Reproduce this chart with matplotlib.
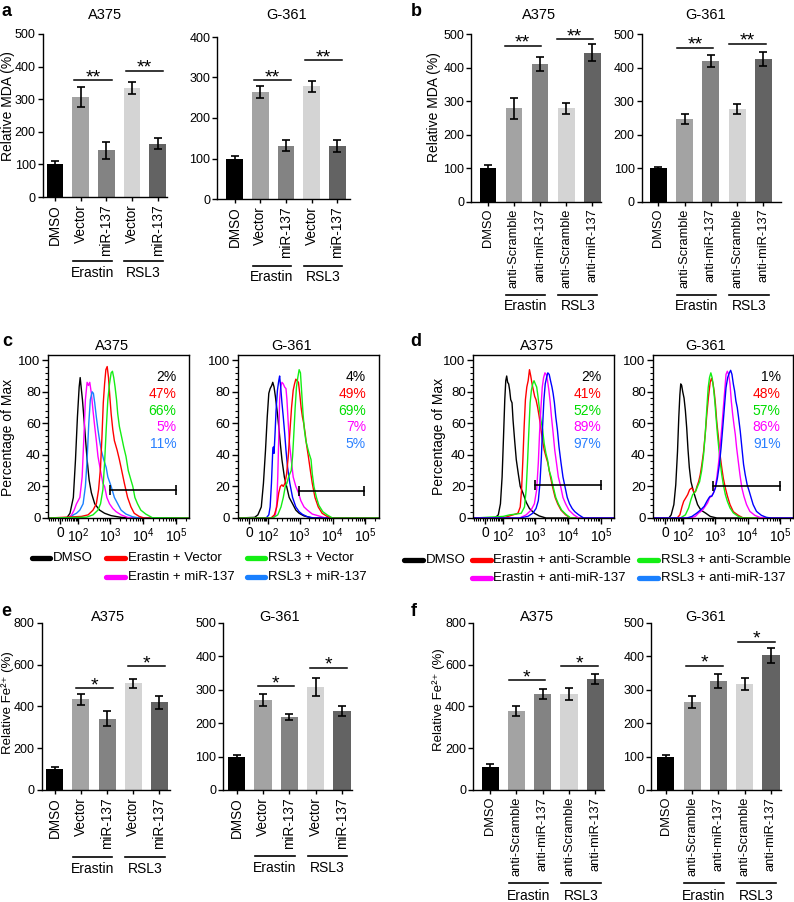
import numpy as np
import matplotlib
matplotlib.use("Agg")
import matplotlib.pyplot as plt
from matplotlib.transforms import blended_transform_factory
from matplotlib.lines import Line2D
from matplotlib.ticker import FixedLocator, MultipleLocator

plt.rcParams["font.family"] = ["Liberation Sans", "DejaVu Sans"]
plt.rcParams["mathtext.fontset"] = "custom"
plt.rcParams["mathtext.rm"] = "Liberation Sans"
plt.rcParams["mathtext.it"] = "Liberation Sans:italic"
plt.rcParams["mathtext.bf"] = "Liberation Sans:bold"
plt.rcParams["axes.linewidth"] = 1.0

# ---------------- bar chart data ----------------
VEC_LABELS = ["DMSO", "Vector", "miR-137", "Vector", "miR-137"]
ANTI_LABELS = ["DMSO", "anti-Scramble", "anti-miR-137", "anti-Scramble", "anti-miR-137"]
GROUPS = ["Erastin", "RSL3"]
BAR_COLORS = ["#000000", "#a3a3a3", "#838383", "#d4d4d4", "#636363"]

a_a375_mean = [100, 306, 143, 334, 164]
a_a375_err = [10, 31, 27, 19, 17]
a_g361_mean = [100, 264, 132, 278, 131]
a_g361_err = [6, 15, 13, 14, 15]
b_a375_mean = [100, 279, 411, 279, 445]
b_a375_err = [11, 31, 20, 16, 26]
b_g361_mean = [100, 247, 419, 277, 426]
b_g361_err = [5, 15, 18, 16, 22]
e_a375_mean = [100, 433, 341, 510, 419]
e_a375_err = [11, 28, 37, 23, 31]
e_g361_mean = [100, 268, 219, 309, 236]
e_g361_err = [6, 18, 9, 27, 14]
f_a375_mean = [110, 378, 459, 457, 531]
f_a375_err = [12, 26, 25, 29, 25]
f_g361_mean = [100, 262, 325, 317, 402]
f_g361_err = [6, 18, 21, 17, 23]

# heights of the significance lines (Erastin pair, RSL3 pair)
a_a375_sig = [359, 387]
a_g361_sig = [293, 342]
b_a375_sig = [466, 485]
b_g361_sig = [460, 472]
e_a375_sig = [486, 591]
e_g361_sig = [311, 365]
f_a375_sig = [526, 591]
f_g361_sig = [371, 443]

# ---------------- flow cytometry data (intensity, % of max) ----------------
c1_dmso_x = [29, 45, 64, 78, 92, 106, 115, 127, 137, 155, 171, 194, 225, 264, 335, 473, 672, 1064, 2130, 4250]
c1_dmso_y = [0, 3, 13, 37, 64, 83, 89, 81, 75, 62, 51, 37, 24, 16, 9, 5, 3, 1.5, 0.4, 0]
c1_red_x = [127, 209, 297, 376, 441, 505, 557, 613, 672, 735, 806, 883, 970, 1064, 1194, 1335, 1615, 1892,
            2230, 2680, 3360, 4250, 5330, 7530, 10640]
c1_red_y = [1, 2, 5, 9, 18, 32, 51, 73, 85, 94, 96, 89, 77, 66, 56, 49, 43, 37, 30, 22, 13, 7, 3, 1, 0]
c1_green_x = [184, 297, 422, 505, 597, 672, 752, 844, 948, 1064, 1165, 1275, 1400, 1550, 1686, 1892, 2230,
              2560, 3000, 3520, 4250, 4840, 5590, 6720, 8450, 11930, 18910]
c1_green_y = [0.5, 2, 5, 9, 18, 35, 56, 75, 85, 92, 93, 89, 83, 75, 66, 58, 51, 45, 39, 30, 24, 20, 13, 9, 5,
              2.5, 0.2]
c1_mag_x = [36, 54, 69, 85, 112, 134, 155, 171, 194, 214, 235, 264, 297, 335, 376, 422, 505, 597, 672, 788,
            948, 1194, 1503, 2130, 3360, 5330]
c1_mag_y = [0, 2, 5, 9, 13, 26, 54, 75, 86, 84, 86, 79, 68, 58, 49, 39, 30, 22, 20, 13, 9, 6, 4, 2, 0.4, 0]
c1_blue_x = [45, 64, 85, 112, 144, 171, 194, 219, 245, 279, 305, 335, 376, 422, 473, 533, 630, 752, 844, 1064,
             1335, 1686, 2130, 3000, 4750, 7530]
c1_blue_y = [0, 2, 3, 5, 9, 20, 37, 60, 75, 80, 79, 73, 64, 56, 49, 43, 37, 32, 26, 20, 13, 9, 5, 2.5, 0.8, 0]

c2_dmso_x = [22.6, 38, 56, 69, 83, 96, 109, 121, 137, 148, 163, 180, 204, 230, 258, 289, 343, 403, 483, 613,
             770, 970, 1365, 2430]
c2_dmso_y = [0.4, 2, 7, 22, 43, 64, 79, 82, 84, 86, 83, 77, 68, 58, 47, 37, 26, 20, 13, 9, 5, 3, 1.3, 0]
c2_red_x = [130, 167, 199, 230, 258, 289, 318, 358, 403, 452, 505, 570, 640, 703, 770, 844, 925, 1010, 1115,
            1222, 1335, 1470, 1615, 1850, 2130, 2430, 2940, 3690, 4840, 6860, 9960]
c2_red_y = [0, 2, 7, 16, 20, 21, 20, 22, 28, 39, 54, 70, 81, 85, 88, 87, 86, 79, 70, 64, 60, 54, 47, 39, 30,
            22, 13, 7, 3, 1, 0]
c2_green_x = [148, 214, 270, 318, 367, 412, 462, 505, 557, 613, 672, 735, 806, 883, 970, 1064, 1165, 1275,
              1400, 1550, 1730, 1940, 2230, 2430, 2730, 3250, 3860, 5080, 6860, 9960]
c2_green_y = [0, 2, 7, 13, 20, 22, 26, 28, 30, 39, 54, 70, 83, 89, 94, 92, 79, 66, 56, 49, 45, 41, 37, 28, 20,
              13, 8, 4, 2, 0]
c2_mag_x = [148, 180, 199, 214, 230, 245, 264, 289, 318, 350, 385, 412, 452, 494, 557, 640, 770, 925, 1090,
            1365, 1730, 2430, 3860, 6120]
c2_mag_y = [0, 2, 9, 26, 51, 75, 83, 86, 85, 83, 82, 75, 60, 47, 37, 26, 20, 16, 11, 7, 5, 2.5, 1.3, 0]
c2_blue_x = [88, 109, 121, 134, 148, 155, 163, 176, 189, 209, 230, 245, 264, 289, 318, 350, 385, 432, 505,
             613, 770, 970, 1222, 1730, 2730]
c2_blue_y = [0, 2, 7, 22, 43, 45, 41, 54, 68, 81, 87, 90, 83, 73, 64, 54, 43, 32, 22, 13, 7, 4, 2.3, 0.8, 0]

d1_dmso_x = [45, 64, 78, 90, 101, 112, 121, 130, 140, 151, 163, 176, 194, 209, 235, 264, 305, 350, 422, 533,
             672, 948, 1335, 2130]
d1_dmso_y = [0, 2, 9, 26, 51, 75, 87, 90, 86, 85, 81, 75, 73, 62, 49, 37, 28, 20, 16, 10, 6, 3, 1.3, 0]
d1_red_x = [98, 144, 209, 297, 350, 385, 422, 462, 505, 557, 613, 672, 735, 806, 883, 970, 1064, 1194, 1335,
            1503, 1686, 1892, 2130, 2430, 2800, 3360, 4060, 4840, 6120, 8450, 11930]
d1_red_y = [0, 1, 2, 3, 7, 18, 37, 58, 75, 83, 87, 94, 90, 85, 81, 77, 75, 70, 64, 56, 49, 43, 39, 35, 28, 20,
            13, 9, 5, 2, 0]
d1_green_x = [98, 163, 264, 376, 473, 533, 585, 640, 703, 770, 844, 925, 1010, 1115, 1222, 1335, 1503, 1686,
              1892, 2130, 2383, 2680, 3070, 3520, 4250, 5080, 6400, 8450, 11930]
d1_green_y = [1, 2, 2.5, 3, 7, 18, 35, 54, 73, 81, 85, 87, 85, 83, 77, 70, 62, 56, 47, 41, 37, 30, 26, 20, 13,
              9, 5, 2.5, 0]
d1_mag_x = [335, 533, 752, 948, 1115, 1250, 1365, 1503, 1650, 1810, 1985, 2180, 2383, 2620, 2880, 3140, 3520,
            3950, 4450, 5080, 5980, 7020, 8450, 10640, 15020, 21200]
d1_mag_y = [0, 2, 5, 9, 18, 35, 54, 70, 83, 89, 92, 91, 87, 81, 73, 64, 54, 43, 35, 26, 20, 13, 9, 5, 2, 0]
d1_blue_x = [335, 597, 844, 1064, 1250, 1400, 1550, 1686, 1850, 2030, 2230, 2430, 2680, 2940, 3250, 3520,
             3860, 4250, 4750, 5330, 6120, 7020, 8060, 9480, 11130, 13390, 16100, 21200, 29960]
d1_blue_y = [0, 1, 3, 6, 11, 22, 39, 58, 75, 85, 89, 92, 91, 87, 83, 79, 73, 64, 56, 45, 35, 26, 20, 13, 9, 6,
             4, 2, 0]

d2_dmso_x = [16.5, 27, 40, 50, 60, 68, 75, 81, 88, 96, 107, 119, 132, 145, 161, 182, 211, 250, 294, 374, 530,
             725, 1150]
d2_dmso_y = [0, 2, 8.5, 21, 42, 64, 78, 85, 84, 80, 76, 68, 57, 44, 32, 23, 18, 13, 8.5, 5, 3, 1, 0]
d2_red_x = [58, 75, 91, 104, 122, 142, 165, 191, 211, 232, 256, 281, 317, 356, 400, 451, 507, 570, 640, 720,
            790, 866, 952, 1045, 1146, 1288, 1446, 1626, 1824, 2100, 2418, 2910, 3675, 5205, 7380]
d2_red_y = [0, 2, 7.4, 10.6, 12.7, 14.8, 18, 19, 18, 16, 17, 20, 23, 27.5, 34, 42, 53, 66, 77, 86, 88.5, 86,
            80.5, 72, 61, 51, 40, 32, 25, 19, 14, 8.5, 4, 1.7, 0]
d2_green_x = [79, 119, 153, 182, 206, 232, 262, 294, 340, 392, 451, 507, 570, 626, 687, 755, 828, 909, 998,
              1094, 1202, 1320, 1446, 1626, 1824, 2100, 2418, 2910, 3675, 5205, 7380]
d2_green_y = [0, 2, 6.4, 11.7, 14.8, 15.9, 17.4, 20, 23, 29.7, 40, 53, 70, 82.6, 89, 92, 89, 82.6, 74, 63.6,
              53, 44.5, 36, 27.5, 21, 14.8, 10.6, 6.4, 3.2, 1, 0]
d2_mag_x = [173, 250, 317, 374, 430, 507, 597, 687, 790, 909, 1020, 1146, 1288, 1446, 1626, 1824, 2004, 2198,
            2418, 2650, 2910, 3190, 3510, 3850, 4220, 4635, 5205, 5850, 6720, 7740, 9320, 11760, 16650, 23600,
            37600]
d2_mag_y = [0, 1, 3.2, 4.2, 5.3, 7.4, 9.5, 12.7, 13.8, 15.9, 19, 25.4, 34, 44.5, 57, 70, 80.5, 91, 93, 91, 85,
            74, 65.7, 59, 53, 44.5, 36, 27.5, 19, 13.8, 8.5, 4.2, 1.7, 0.4, 0]
d2_blue_x = [135, 196, 281, 374, 472, 570, 656, 720, 808, 909, 1045, 1202, 1380, 1553, 1743, 1958, 2198,
             2470, 2773, 3046, 3340, 3675, 4028, 4418, 4850, 5325, 5985, 6720, 7550, 8480, 9755, 11230, 12900,
             14830, 18730, 26500, 37600, 53200]
d2_blue_y = [0, 1, 3.2, 5.3, 7.4, 10.6, 12.7, 13.8, 13.8, 15.9, 19, 25.4, 34, 44.5, 57, 70, 82.6, 89, 92, 93.6,
             91, 85, 80.5, 74, 70, 63.6, 55, 44.5, 34, 27.5, 21, 17, 12.7, 8.5, 4.2, 1.7, 0.4, 0]

c1_pct = ["2%", "47%", "66%", "5%", "11%"]
c2_pct = ["4%", "49%", "69%", "7%", "5%"]
d1_pct = ["2%", "41%", "52%", "89%", "97%"]
d2_pct = ["1%", "48%", "57%", "86%", "91%"]

# gate: start, end, height
c1_gate = [1000, 100000, 18]
c2_gate = [930, 93000, 17]
d1_gate = [1010, 100000, 21]
d2_gate = [909, 95300, 20]

LEG_C = ["DMSO", "Erastin + Vector", "RSL3 + Vector", "Erastin + miR-137", "RSL3 + miR-137"]
LEG_D = ["DMSO", "Erastin + anti-Scramble", "RSL3 + anti-Scramble", "Erastin + anti-miR-137",
         "RSL3 + anti-miR-137"]

RED = "#ff0000"
GREEN = "#14ee14"
MAG = "#ff00ff"
LBLUE = "#1a80ff"
DBLUE = "#0000ff"
TXT_COLORS = ["#000000", RED, "#00dd00", MAG, "#2a80ff"]
LEG_COLORS = ["#000000", RED, GREEN, MAG, LBLUE]

W, H = 794, 902
fig = plt.figure(figsize=(W / 100, H / 100), dpi=100)


def box(left, top, right, bottom):
    return fig.add_axes([left / W, 1 - bottom / H, (right - left) / W, (bottom - top) / H])


def fy(y):
    return 1 - y / H


def ftext(x, y, s, **kw):
    fig.text(x / W, fy(y), s, **kw)


def bar_panel(pos, means, errs, labels, ymax, ystep, xlim, sig, star, span, gline, gtext, lsize):
    ax = box(*pos)
    x = np.arange(len(means))
    ax.bar(x, means, width=0.65, color=BAR_COLORS, zorder=2)
    ax.errorbar(x, means, yerr=errs, fmt="none", ecolor="black", elinewidth=1.2,
                capsize=3, capthick=1.2, zorder=3)
    ax.set_ylim(0, ymax)
    ax.set_xlim(*xlim)
    ax.set_yticks(np.arange(0, ymax + 1, ystep))
    ax.set_xticks(x)
    ax.set_xticklabels(labels, rotation=90, fontsize=lsize)
    ax.tick_params(axis="y", labelsize=9, length=3.5, width=1, pad=1.5)
    ax.tick_params(axis="x", length=3, width=1, pad=2)
    for s in ["top", "right"]:
        ax.spines[s].set_visible(False)
    for i, yl in zip([1, 3], sig):
        ax.plot([i + span[0], i + 1 + span[1]], [yl, yl], color="black", lw=1.1, clip_on=False)
        ax.annotate(star, xy=(i + 0.5 + (span[0] + span[1]) / 2, yl), xytext=(0, -1.5),
                    textcoords="offset points", ha="center", va="baseline", fontsize=14)
    tr = blended_transform_factory(ax.transData, fig.transFigure)
    for i, g in zip([1, 3], GROUPS):
        ax.plot([i - 0.3, i + 1.2], [fy(gline), fy(gline)], color="black", lw=1.2,
                transform=tr, clip_on=False)
        ax.text(i + 0.45, fy(gtext), g, transform=tr, ha="center", va="center", fontsize=10)
    return ax


C = 60.0


def biex(v):
    return np.arcsinh(np.asarray(v, dtype=float) / C) / np.log(10)


def biex_inv(u):
    return C * np.sinh(np.asarray(u, dtype=float) * np.log(10))


def flow_panel(pos, curves, pct, gate):
    ax = box(*pos)
    ax.set_xscale("function", functions=(biex, biex_inv))
    for xs, ys, col in curves:
        ax.plot([-50] + xs + [250000], [0] + ys + [0], color=col, lw=1.0)
    ax.plot(gate[:2], [gate[2], gate[2]], color="black", lw=1.2, marker="|", markersize=7,
            markeredgewidth=1.2)
    ax.set_xlim(-55, 250000)
    ax.set_ylim(0, 103.5)
    ax.yaxis.set_major_locator(FixedLocator([0, 20, 40, 60, 80, 100]))
    ax.yaxis.set_minor_locator(MultipleLocator(4))
    major = [0, 1e2, 1e3, 1e4, 1e5]
    minor = np.concatenate([np.arange(-50, 100, 10),
                            np.outer(10.0 ** np.arange(2, 5), np.arange(2, 10)).ravel(), [2e5]])
    ax.xaxis.set_major_locator(FixedLocator(major))
    ax.xaxis.set_minor_locator(FixedLocator(minor))
    ax.set_xticklabels(["0", r"$\mathregular{10^2}$", r"$\mathregular{10^3}$",
                        r"$\mathregular{10^4}$", r"$\mathregular{10^5}$"])
    ax.tick_params(which="major", length=4, width=1, labelsize=10, pad=2)
    ax.tick_params(which="minor", length=2, width=0.8)
    ax.tick_params(axis="y", labelsize=9.5, pad=1.5)
    for k, (t, c) in enumerate(zip(pct, TXT_COLORS)):
        ax.text(0.91, 0.865 - k * 0.1035, t, color=c, transform=ax.transAxes,
                ha="right", va="center", fontsize=10)
    return ax


# ---------------- panels a, b ----------------
bar_panel((42.7, 34, 166.7, 197), a_a375_mean, a_a375_err, VEC_LABELS, 500, 100, (-0.48, 4.35),
          a_a375_sig, "**", (-0.25, 0.2), 261, 273, 9.8)
bar_panel((217.3, 37, 350, 199), a_g361_mean, a_g361_err, VEC_LABELS, 400, 100, (-0.68, 4.5),
          a_g361_sig, "**", (-0.25, 0.2), 265.7, 277.3, 9.8)
bar_panel((471.3, 34.3, 600.7, 201.7), b_a375_mean, b_a375_err, ANTI_LABELS, 500, 100, (-0.64, 4.33),
          b_a375_sig, "**", (-0.36, 0.02), 295, 306, 9.3)
bar_panel((641.7, 34.3, 780.7, 201.7), b_g361_mean, b_g361_err, ANTI_LABELS, 500, 100, (-0.63, 4.66),
          b_g361_sig, "**", (-0.3, 0.1), 295, 306, 9.3)

# ---------------- panels e, f ----------------
bar_panel((41.7, 622.7, 170, 790), e_a375_mean, e_a375_err, VEC_LABELS, 800, 200, (-0.5, 4.41),
          e_a375_sig, "*", (-0.18, 0.22), 856.7, 869, 9.8)
bar_panel((223.3, 622.7, 351.7, 790), e_g361_mean, e_g361_err, VEC_LABELS, 500, 100, (-0.51, 4.37),
          e_g361_sig, "*", (-0.21, 0.19), 856, 868.3, 9.8)
bar_panel((473, 622.7, 604, 790), f_a375_mean, f_a375_err, ANTI_LABELS, 800, 200, (-0.65, 4.33),
          f_a375_sig, "*", (-0.3, 0.1), 883.3, 896, 9.3)
bar_panel((651.3, 622.7, 780.7, 790), f_g361_mean, f_g361_err, ANTI_LABELS, 500, 100, (-0.55, 4.37),
          f_g361_sig, "*", (-0.24, 0.16), 883.3, 896, 9.3)

# ---------------- panels c, d ----------------
flow_panel((48.3, 354.7, 189.3, 518),
           [(c1_dmso_x, c1_dmso_y, "black"), (c1_mag_x, c1_mag_y, MAG), (c1_blue_x, c1_blue_y, LBLUE),
            (c1_red_x, c1_red_y, RED), (c1_green_x, c1_green_y, GREEN)], c1_pct, c1_gate)
flow_panel((237.6, 354.7, 378.6, 518),
           [(c2_dmso_x, c2_dmso_y, "black"), (c2_mag_x, c2_mag_y, MAG), (c2_blue_x, c2_blue_y, DBLUE),
            (c2_red_x, c2_red_y, RED), (c2_green_x, c2_green_y, GREEN)], c2_pct, c2_gate)
flow_panel((473.3, 354.7, 614, 518),
           [(d1_dmso_x, d1_dmso_y, "black"), (d1_red_x, d1_red_y, RED), (d1_green_x, d1_green_y, GREEN),
            (d1_mag_x, d1_mag_y, MAG), (d1_blue_x, d1_blue_y, DBLUE)], d1_pct, d1_gate)
flow_panel((653.3, 354.7, 793.3, 518),
           [(d2_dmso_x, d2_dmso_y, "black"), (d2_red_x, d2_red_y, RED), (d2_green_x, d2_green_y, GREEN),
            (d2_mag_x, d2_mag_y, MAG), (d2_blue_x, d2_blue_y, DBLUE)], d2_pct, d2_gate)

# ---------------- titles, letters, axis labels ----------------
for x, y in [(105, 15), (539, 15), (111.7, 345.7), (537.3, 345.7), (108.3, 616.7), (536.7, 616.7)]:
    ftext(x, y, "A375", ha="center", va="center", fontsize=10.5)
for x, y in [(286.7, 15), (705.7, 15), (291.7, 345.7), (705.7, 345.7), (279.3, 616.7), (705.7, 616.7)]:
    ftext(x, y, "G-361", ha="center", va="center", fontsize=10.5)

for s, x, y in [("a", 7, 12), ("b", 416, 11), ("c", 7, 341), ("d", 416, 341), ("e", 6, 612), ("f", 414, 612)]:
    ftext(x, y, s, ha="center", va="center", fontsize=13, fontweight="bold")

for s, x, y in [("Relative MDA (%)", 8, 106), ("Relative MDA (%)", 434, 107),
                ("Percentage of Max", 8, 437), ("Percentage of Max", 439, 436)]:
    ftext(x, y, s, ha="center", va="center", rotation=90, fontsize=10)
for x, y in [(7.6, 703), (439, 700)]:
    ftext(x, y, "Relative Fe\u00b2\u207a (%)", ha="center", va="center", rotation=90, fontsize=9.5)


# ---------------- legends ----------------
def legend_item(x0, x1, y, color, label):
    fig.add_artist(Line2D([x0 / W, x1 / W], [fy(y), fy(y)], color=color, lw=3.8,
                          solid_capstyle="round", transform=fig.transFigure))
    ftext(x1 + 2.5, y, label, ha="left", va="center", fontsize=9.5)


c_slots = [(31.7, 50, 558.3), (106, 125, 558.3), (246.7, 265, 558.3), (106, 125, 576.7), (246.7, 265, 576.7)]
d_slots = [(404, 423.3, 560), (471.7, 490.7, 560), (639, 658.3, 560), (471.7, 490.7, 578.3), (639, 658.3, 578.3)]
for (x0, x1, y), col, lab in zip(c_slots, LEG_COLORS, LEG_C):
    legend_item(x0, x1, y, col, lab)
for (x0, x1, y), col, lab in zip(d_slots, LEG_COLORS, LEG_D):
    legend_item(x0, x1, y, col, lab)

fig.savefig("out.png", dpi=100)
